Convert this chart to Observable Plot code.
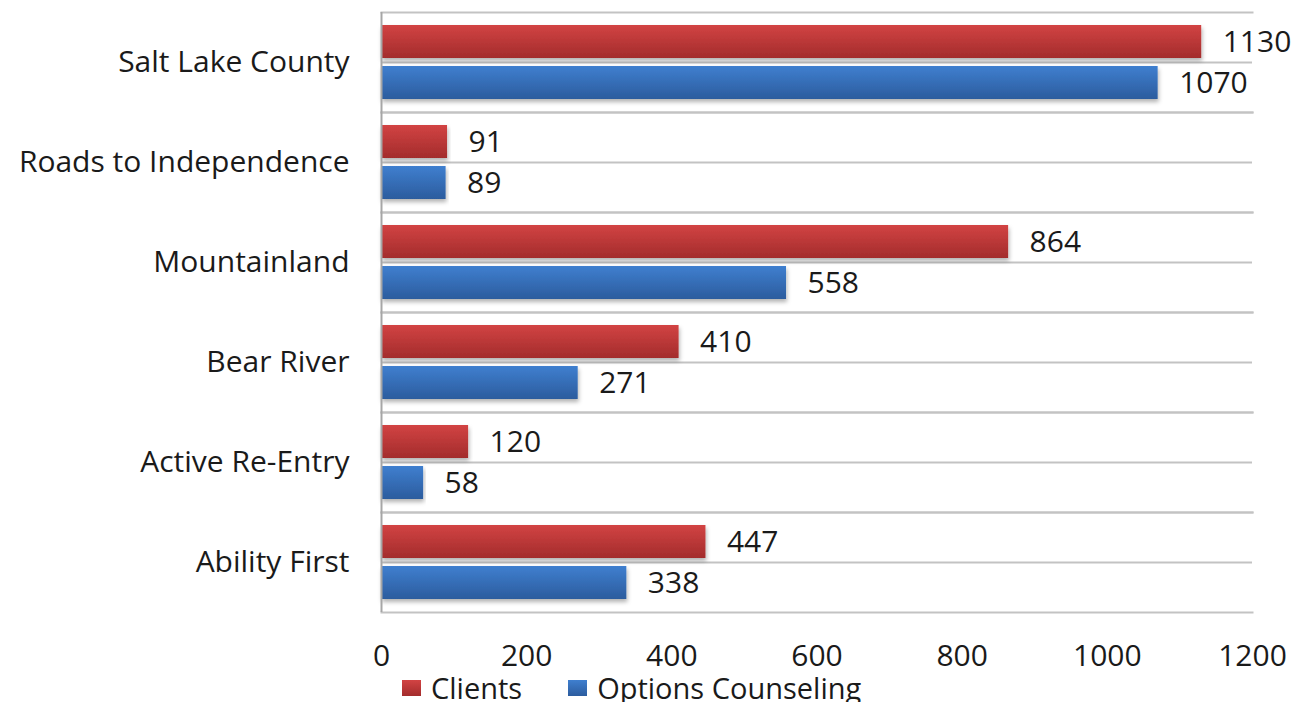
<!DOCTYPE html>
<html>
<head>
<meta charset="utf-8">
<script src="https://cdn.jsdelivr.net/npm/d3@7"></script>
<script src="https://cdn.jsdelivr.net/npm/@observablehq/plot@0.6"></script>
<style>
  html, body { margin: 0; background: #fff; font-family: "Open Sans", sans-serif; overflow: hidden; }
  #chart svg { display: block; }
  #legend { display: flex; align-items: center; height: 28px; margin-top: 0; padding-left: 402px; font-size: 29px; color: #1a1a1a; line-height: 28px; }
  .item { display: flex; align-items: center; margin-right: 46px; }
  .sw { width: 19px; height: 16px; margin-right: 10px; }
</style>
</head>
<body>
<div id="chart"></div>
<div id="legend"></div>
<script>
const categories = ["Salt Lake County", "Roads to Independence", "Mountainland", "Bear River", "Active Re-Entry", "Ability First"];
const seriesNames = ["Clients", "Options Counseling"];
const clients = [1130, 91, 864, 410, 120, 447];
const optionsCounseling = [1070, 89, 558, 271, 58, 338];
const xTicks = [0, 200, 400, 600, 800, 1000, 1200];

const colors = {"Clients": "url(#gradRed)", "Options Counseling": "url(#gradBlue)"};
const data = [];
categories.forEach((c, i) => {
  data.push({category: c, series: seriesNames[0], value: clients[i]});
  data.push({category: c, series: seriesNames[1], value: optionsCounseling[i]});
});

const defs = () => {
  const svg = d3.create("svg:defs");
  const g1 = svg.append("linearGradient").attr("id", "gradRed").attr("x1", 0).attr("y1", 0).attr("x2", 0).attr("y2", 1);
  g1.append("stop").attr("offset", "0%").attr("stop-color", "#d24343");
  g1.append("stop").attr("offset", "100%").attr("stop-color", "#a32c2c");
  const g2 = svg.append("linearGradient").attr("id", "gradBlue").attr("x1", 0).attr("y1", 0).attr("x2", 0).attr("y2", 1);
  g2.append("stop").attr("offset", "0%").attr("stop-color", "#3f7fcf");
  g2.append("stop").attr("offset", "100%").attr("stop-color", "#2c5c9e");
  const f = svg.append("filter").attr("id", "shadow").attr("x", "-5%").attr("y", "-20%").attr("width", "110%").attr("height", "160%");
  f.append("feDropShadow").attr("dx", 1).attr("dy", 3).attr("stdDeviation", 2).attr("flood-color", "#000").attr("flood-opacity", 0.3);
  return svg.node();
};

const chart = Plot.plot({
  width: 1304,
  height: 674,
  marginLeft: 381,
  marginRight: 52,
  marginTop: 11,
  marginBottom: 61,
  style: {fontFamily: "Open Sans, sans-serif", fontSize: "30px", color: "#1a1a1a", background: "#fff"},
  x: {domain: [0, 1200], ticks: xTicks, tickSize: 0, tickPadding: 32, label: null, tickFormat: d => String(d)},
  fy: {domain: categories, padding: 0, label: null, tickSize: 0, tickPadding: 32},
  y: {domain: seriesNames, paddingInner: 0.195, paddingOuter: 0.317, axis: null},
  marks: [
    defs,
    Plot.frame({anchor: "top", stroke: "#c3c3c3", strokeWidth: 2}),
    Plot.frame({anchor: "bottom", stroke: "#c3c3c3", strokeWidth: 2}),
    Plot.gridFy({stroke: "#c3c3c3", strokeOpacity: 1, strokeWidth: 2}),
    Plot.barX(data, {fy: "category", y: "series", x: "value", fill: d => colors[d.series]}),
    Plot.text(data, {fy: "category", y: "series", x: "value", text: d => String(d.value), textAnchor: "start", dx: 21, fill: "#1a1a1a", fontSize: 30}),
    Plot.ruleX([0], {stroke: "#a6a6a6", strokeWidth: 2})
  ]
});
document.getElementById("chart").appendChild(chart);
chart.querySelectorAll("g[aria-label='bar'] rect").forEach(r => r.setAttribute("filter", "url(#shadow)"));

const legendColors = {"Clients": "linear-gradient(#d24343, #a32c2c)", "Options Counseling": "linear-gradient(#3f7fcf, #2c5c9e)"};
const legend = document.getElementById("legend");
seriesNames.forEach(s => {
  const it = document.createElement("div");
  it.className = "item";
  const sw = document.createElement("div");
  sw.className = "sw";
  sw.style.background = legendColors[s];
  const t = document.createElement("span");
  t.textContent = s;
  it.appendChild(sw);
  it.appendChild(t);
  legend.appendChild(it);
});
</script>
</body>
</html>
